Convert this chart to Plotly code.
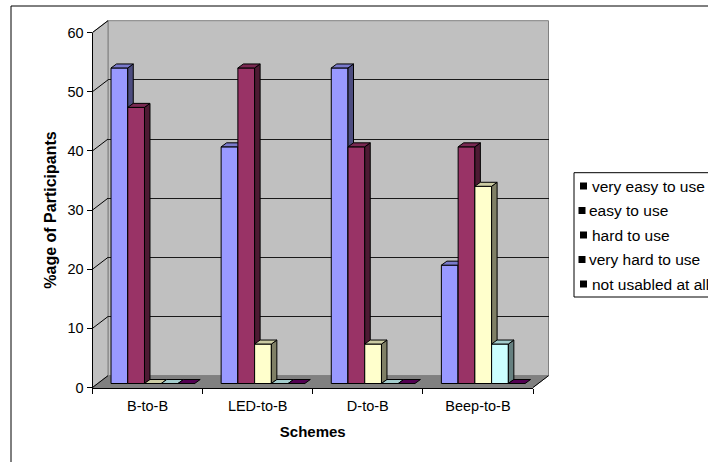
import plotly.graph_objects as go

# ---- data -------------------------------------------------------------
categories = ["B-to-B", "LED-to-B", "D-to-B", "Beep-to-B"]
series_names = ["very easy to use", "easy to use", "hard to use",
                "very hard to use", "not usabled at all"]
very_easy = [53.33, 40.0, 53.33, 20.0]
easy = [46.67, 53.33, 40.0, 40.0]
hard = [0.0, 6.67, 6.67, 33.33]
very_hard = [0.0, 0.0, 0.0, 6.67]
not_usable = [0.0, 0.0, 0.0, 0.0]
y_ticks = [0, 10, 20, 30, 40, 50, 60]

series_values = [very_easy, easy, hard, very_hard, not_usable]

# ---- styles -----------------------------------------------------------
front_colors = ["#9999FF", "#993366", "#FFFFCC", "#CCFFFF", "#660066"]
top_colors = ["#7A7ACC", "#7A2952", "#CCCCA3", "#A3CCCC", "#520052"]
side_colors = ["#4D4D80", "#4D1A33", "#808066", "#668080", "#330033"]
WALL = "#C0C0C0"
FLOOR = "#808080"
EDGE = "#808080"
FONT = "Liberation Sans, Arial, sans-serif"

W, H = 708, 462
# front plane of the 3-D box, in pixels
FX0, FX1 = 92.5, 533.0
FY0, FY1 = 387.5, 32.5
Y_MAX = 60
WALL_DX, WALL_DY = 15.5, -11.8      # back wall offset
BAR_DX, BAR_DY = 5.3, -4.0          # front faces of the bars
DEPTH_DX, DEPTH_DY = 5.5, -4.0      # bar depth
GROUP = 0.76                        # share of a category taken by the bars

n_cat = len(categories)
sx = (FX1 - FX0) / n_cat
sy = (FY0 - FY1) / Y_MAX


def px(x):
    return x / W


def py(y):
    return 1 - y / H


fig = go.Figure()

# ---- front axes: ticks, labels, titles ---------------------------------
layout_axes = dict(
    xaxis=dict(
        domain=[px(FX0), px(FX1)], anchor="y", type="category",
        categoryorder="array", categoryarray=categories,
        range=[-0.5, n_cat - 0.5], tickson="boundaries",
        ticks="outside", ticklen=5, tickcolor="black", tickwidth=1,
        ticklabelstandoff=5, automargin=False,
        showline=True, linecolor="black", linewidth=1,
        showgrid=False, zeroline=False, fixedrange=True,
        tickfont=dict(family=FONT, size=14.5, color="black"),
        title=dict(text="<b>Schemes</b>", standoff=13,
                   font=dict(family=FONT, size=15, color="black")),
    ),
    yaxis=dict(
        domain=[py(FY0), py(FY1)], anchor="x",
        range=[0, Y_MAX], tickvals=y_ticks, automargin=False,
        ticks="outside", ticklen=5, tickcolor="black", tickwidth=1,
        showline=True, linecolor="black", linewidth=1,
        showgrid=False, zeroline=False, fixedrange=True,
        tickfont=dict(family=FONT, size=14.5, color="black"),
        title=dict(text="<b>%age of Participants</b>", standoff=6,
                   font=dict(family=FONT, size=16, color="black")),
    ),
)
# transparent carrier so the front axes get their categories
fig.add_trace(go.Scatter(x=categories, y=very_easy, mode="markers",
                         marker=dict(opacity=0), xaxis="x", yaxis="y",
                         showlegend=False, hoverinfo="skip"))

# ---- back wall axes: horizontal gridlines ------------------------------
layout_axes["xaxis2"] = dict(
    domain=[px(FX0 + WALL_DX), px(FX1 + WALL_DX)], anchor="y2",
    range=[-0.5, n_cat - 0.5], visible=False, fixedrange=True,
    automargin=False,
)
layout_axes["yaxis2"] = dict(
    domain=[py(FY0 + WALL_DY), py(FY1 + WALL_DY)], anchor="x2",
    range=[0, Y_MAX], tickvals=y_ticks[1:-1], showgrid=True,
    gridcolor="#1A1A1A", gridwidth=1, showticklabels=False, ticks="",
    showline=False, zeroline=False, fixedrange=True, automargin=False,
)
fig.add_trace(go.Scatter(x=[None], y=[None], xaxis="x2", yaxis="y2",
                         showlegend=False, hoverinfo="skip"))

# ---- bars: one overlaid axis pair per series so that drawing order runs
# left to right (front, top and side faces of each series together)
bx_lo, bx_hi = -0.6, n_cat - 0.4
by_lo, by_hi = -1.0, Y_MAX + 1.0
bar_dom_x = [px(FX0 + BAR_DX + (bx_lo + 0.5) * sx),
             px(FX0 + BAR_DX + (bx_hi + 0.5) * sx)]
bar_dom_y = [py(FY0 + BAR_DY - by_lo * sy), py(FY0 + BAR_DY - by_hi * sy)]
ddx = DEPTH_DX / sx
ddy = -DEPTH_DY / sy
bar_w = GROUP / len(series_values)

for i, (name, vals) in enumerate(zip(series_names, series_values)):
    k = 3 + i
    xa, ya = f"x{k}", f"y{k}"
    xdef = dict(domain=bar_dom_x, range=[bx_lo, bx_hi], anchor=ya,
                visible=False, fixedrange=True, automargin=False)
    ydef = dict(domain=bar_dom_y, range=[by_lo, by_hi], anchor=xa,
                visible=False, fixedrange=True, automargin=False)
    if k > 3:
        xdef["overlaying"] = "x3"
        ydef["overlaying"] = "y3"
    layout_axes[f"xaxis{k}"] = xdef
    layout_axes[f"yaxis{k}"] = ydef

    offset = -GROUP / 2 + i * bar_w
    xs = list(range(n_cat))
    fig.add_trace(go.Bar(
        x=xs, y=vals, width=bar_w, offset=offset, name=name,
        marker=dict(color=front_colors[i], line=dict(color="black", width=1)),
        xaxis=xa, yaxis=ya, showlegend=False,
        hovertemplate="%{y:.2f}%<extra>" + name + "</extra>",
    ))

    top_x, top_y, side_x, side_y = [], [], [], []
    for c, v in enumerate(vals):
        x0 = c + offset
        x1 = x0 + bar_w
        top_x += [x0, x0 + ddx, x1 + ddx, x1, x0, None]
        top_y += [v, v + ddy, v + ddy, v, v, None]
        if v > 0:
            side_x += [x1, x1, x1 + ddx, x1 + ddx, x1, None]
            side_y += [0, v, v + ddy, ddy, 0, None]
    if side_x:
        fig.add_trace(go.Scatter(
            x=side_x, y=side_y, mode="lines", fill="toself",
            fillcolor=side_colors[i], line=dict(color="black", width=1),
            xaxis=xa, yaxis=ya, showlegend=False, hoverinfo="skip"))
    fig.add_trace(go.Scatter(
        x=top_x, y=top_y, mode="lines", fill="toself",
        fillcolor=top_colors[i], line=dict(color="black", width=1),
        xaxis=xa, yaxis=ya, showlegend=False, hoverinfo="skip"))

# ---- walls and floor ---------------------------------------------------
def poly(points):
    d = "M " + " L ".join(f"{px(x):.5f},{py(y):.5f}" for x, y in points) + " Z"
    return d


bx0, bx1 = FX0 + WALL_DX, FX1 + WALL_DX
by0, by1 = FY0 + WALL_DY, FY1 + WALL_DY
shapes = [
    # back wall
    dict(type="path", path=poly([(bx0, by0), (bx0, by1), (bx1, by1), (bx1, by0)]),
         xref="paper", yref="paper", fillcolor=WALL,
         line=dict(color=EDGE, width=1), layer="below"),
    # side wall
    dict(type="path", path=poly([(FX0, FY0), (FX0, FY1), (bx0, by1), (bx0, by0)]),
         xref="paper", yref="paper", fillcolor=WALL,
         line=dict(color=EDGE, width=1), layer="below"),
    # floor
    dict(type="path", path=poly([(FX0, FY0), (FX1, FY0), (bx1, by0), (bx0, by0)]),
         xref="paper", yref="paper", fillcolor=FLOOR,
         line=dict(color=EDGE, width=1), layer="below"),
    # right edge of the floor
    dict(type="line", x0=px(FX1), y0=py(FY0), x1=px(bx1), y1=py(by0),
         xref="paper", yref="paper", line=dict(color="black", width=1),
         layer="below"),
]
# gridlines running across the side wall
for t in y_ticks:
    yf = FY0 - t * sy
    shapes.append(dict(type="line", x0=px(FX0), y0=py(yf),
                       x1=px(FX0 + WALL_DX), y1=py(yf + WALL_DY),
                       xref="paper", yref="paper",
                       line=dict(color="black", width=1), layer="below"))

# chart border
shapes.append(dict(type="rect", x0=px(11), y0=py(6), x1=px(W + 6), y1=py(H + 6),
                   xref="paper", yref="paper",
                   line=dict(color="black", width=1), layer="above"))

# ---- legend ------------------------------------------------------------
LEG_X0, LEG_Y0, LEG_Y1 = 574, 172.7, 297
ROW0, ROW_STEP = 186, 24.5
shapes.append(dict(type="rect", x0=px(LEG_X0), y0=py(LEG_Y0), x1=px(W + 6),
                   y1=py(LEG_Y1), xref="paper", yref="paper",
                   fillcolor="white", line=dict(color="black", width=1),
                   layer="above"))
annotations = []
for i, name in enumerate(series_names):
    yc = ROW0 + i * ROW_STEP
    sq_x = 580 if i % 2 == 0 else 578.5
    shapes.append(dict(type="rect", x0=px(sq_x), x1=px(sq_x + 7),
                       y0=py(yc - 3.5), y1=py(yc + 3.5),
                       xref="paper", yref="paper", fillcolor="black",
                       line=dict(width=0), layer="above"))
    tx = 589.5 if i % 2 == 0 else 586.5
    annotations.append(dict(x=px(tx), y=py(yc), xref="paper", yref="paper",
                            text=name, showarrow=False, xanchor="left",
                            yanchor="middle", align="left",
                            font=dict(family=FONT, size=15.5, color="black")))

fig.update_layout(
    width=W, height=H, autosize=False,
    margin=dict(l=0, r=0, t=0, b=0, pad=0, autoexpand=False),
    paper_bgcolor="white", plot_bgcolor="rgba(0,0,0,0)",
    barmode="overlay", showlegend=False,
    shapes=shapes, annotations=annotations,
    font=dict(family=FONT, color="black"),
    **layout_axes,
)

fig.write_html("out.html", include_plotlyjs=True, config={"displayModeBar": False})
